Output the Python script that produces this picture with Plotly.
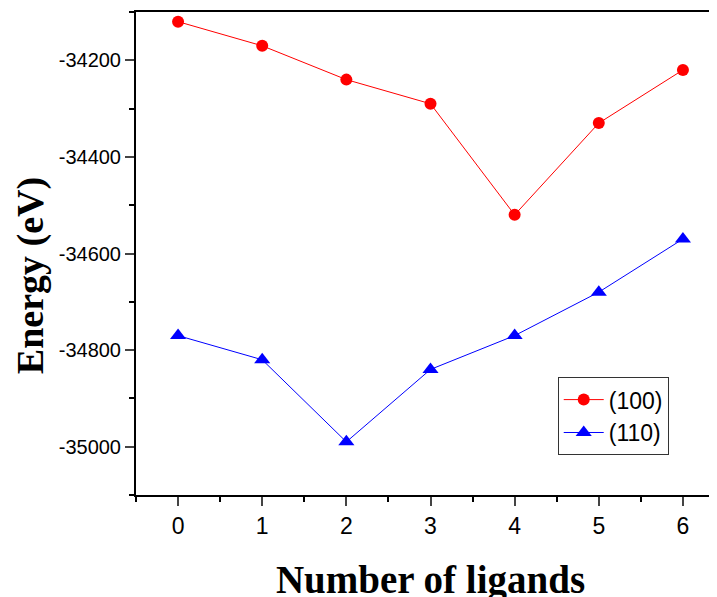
import plotly.graph_objects as go

ligands = [0, 1, 2, 3, 4, 5, 6]
energy_100 = [-34120, -34170, -34240, -34290, -34520, -34330, -34220]
energy_110 = [-34770, -34820, -34990, -34840, -34770, -34680, -34570]
y_ticks = [-34200, -34400, -34600, -34800, -35000]
y_tick_text = ["-34200", "-34400", "-34600", "-34800", "-35000"]

fig = go.Figure()
fig.add_trace(go.Scatter(x=ligands, y=energy_100, mode="lines+markers", name="(100)",
                         line=dict(color="#ff0000", width=1),
                         marker=dict(symbol="circle", size=12, color="#ff0000")))
fig.add_trace(go.Scatter(x=ligands, y=energy_110, mode="lines+markers", name="(110)",
                         line=dict(color="#0000ff", width=1),
                         marker=dict(symbol="triangle-up", size=14, color="#0000ff")))

fig.update_layout(
    width=717, height=597,
    margin=dict(l=128, r=0, t=4, b=110),
    plot_bgcolor="white", paper_bgcolor="white",
    font=dict(family="Liberation Sans, Arial", size=20, color="black"),
    showlegend=True,
    legend=dict(x=0.716, y=0.244, xanchor="left", yanchor="top",
                bordercolor="#333333", borderwidth=1, bgcolor="white",
                font=dict(family="Liberation Sans, Arial", size=23),
                tracegroupgap=0, itemwidth=40),
    annotations=[dict(text="<b>Energy (eV)</b>", textangle=-90,
                      xref="paper", yref="paper", x=-0.18, y=0.455,
                      xanchor="center", yanchor="middle", showarrow=False,
                      font=dict(family="Liberation Serif, Times New Roman", size=38))],
)
fig.update_xaxes(
    range=[-0.5, 6.5], tickvals=ligands, ticks="outside", ticklen=9, tickwidth=2,
    showline=True, linecolor="black", linewidth=2, mirror=True, showgrid=False, zeroline=False,
    automargin=False,
    minor=dict(dtick=0.5, tick0=-0.5, ticks="outside", ticklen=5, tickwidth=2, tickcolor="black"),
    title=dict(text="<b>Number of ligands</b>", standoff=28,
               font=dict(family="Liberation Serif, Times New Roman", size=39)),
    tickfont=dict(size=23),
)
fig.update_yaxes(
    range=[-35100, -34100], tickvals=y_ticks, ticktext=y_tick_text, ticks="outside",
    ticklen=9, tickwidth=2,
    showline=True, linecolor="black", linewidth=2, mirror=False, showgrid=False, zeroline=False,
    automargin=False,
    minor=dict(dtick=100, tick0=-35100, ticks="outside", ticklen=5, tickwidth=2, tickcolor="black"),
    tickfont=dict(size=20),
)
fig.write_html("out.html")
